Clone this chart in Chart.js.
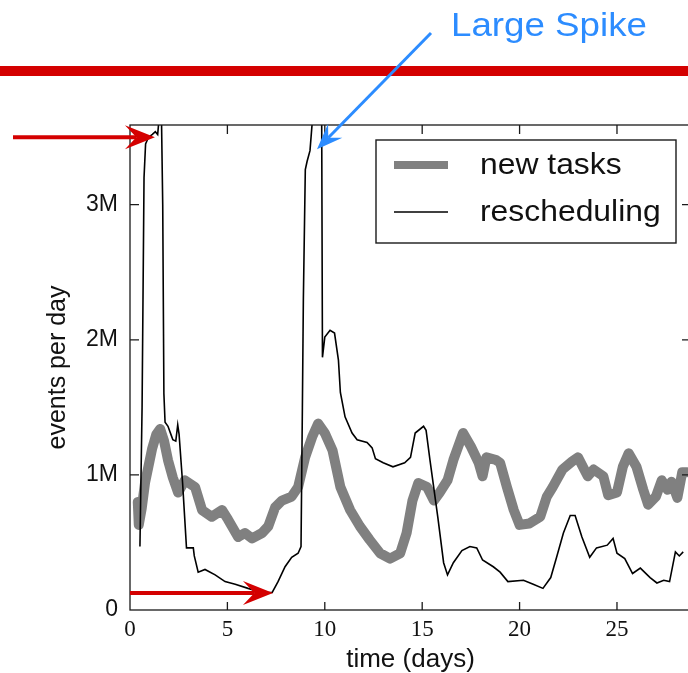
<!DOCTYPE html>
<html>
<head>
<meta charset="utf-8">
<script src="https://cdn.jsdelivr.net/npm/chart.js@4.4.1/dist/chart.umd.min.js"></script>
<style>
  html, body { margin: 0; padding: 0; background: #fff; overflow: hidden; }
  #wrap { position: relative; width: 700px; height: 673px; }
</style>
</head>
<body>
<div id="wrap"><canvas id="chart" width="700" height="673"></canvas></div>
<script>
// axis ticks
const xTicks = [0, 5, 10, 15, 20, 25];
const yTicks = [0, 1, 2, 3];
const yTickLabels = ['0', '1M', '2M', '3M'];

const seriesLabels = ['new tasks', 'rescheduling'];
const spikeNote = 'Large Spike';

// new tasks: day / events per day (millions)
const newTaskDays = [0.4, 0.45, 0.6, 0.77, 1.13, 1.35, 1.55, 1.75, 1.95, 2.2, 2.47, 2.82, 3.34, 3.7, 4.2,
  4.73, 5.03, 5.55, 5.9, 6.27, 6.78, 7.1, 7.45, 7.8, 8.3, 8.63, 8.99, 9.35, 9.66, 10.0,
  10.4, 10.8, 11.3, 11.8, 12.3, 12.84, 13.35, 13.87, 14.2, 14.5, 14.8, 15.25, 15.6, 15.9, 16.3,
  16.6, 17.1, 17.5, 17.9, 18.1, 18.3, 18.8, 19.0, 19.35, 19.7, 20.0, 20.5, 21.06, 21.4, 21.7,
  22.2, 22.7, 23.0, 23.5, 23.8, 24.3, 24.55, 25.0, 25.3, 25.6, 26.0, 26.35, 26.6, 27.0, 27.3,
  27.6, 27.8, 28.1, 28.35, 28.6];
const newTaskEvents = [0.8, 0.63, 0.75, 0.94, 1.19, 1.3, 1.34, 1.25, 1.11, 0.98, 0.87, 0.96, 0.91, 0.74, 0.69,
  0.74, 0.67, 0.54, 0.57, 0.53, 0.57, 0.62, 0.76, 0.81, 0.84, 0.91, 1.13, 1.28, 1.38, 1.31,
  1.18, 0.91, 0.74, 0.62, 0.52, 0.42, 0.38, 0.42, 0.57, 0.81, 0.94, 0.91, 0.81, 0.87, 0.96,
  1.11, 1.31, 1.21, 1.09, 0.99, 1.13, 1.11, 1.09, 0.91, 0.74, 0.63, 0.64, 0.69, 0.84, 0.91,
  1.04, 1.10, 1.13, 0.99, 1.04, 0.99, 0.85, 0.87, 1.06, 1.16, 1.06, 0.89, 0.78, 0.84, 0.96,
  0.89, 0.95, 0.83, 1.02, 1.02];

// rescheduling: day / events per day (millions)
const reschedDays = [0.51, 0.62, 0.72, 0.8, 0.95, 1.15, 1.3, 1.42, 1.5, 1.6, 1.68, 1.74, 1.8, 1.95, 2.1,
  2.2, 2.35, 2.45, 2.52, 2.7, 2.9, 3.25, 3.3, 3.5, 3.85, 4.37, 4.88, 5.4, 6.06, 6.78,
  7.3, 7.6, 7.96, 8.3, 8.63, 8.78, 8.85, 8.9, 9.0, 9.09, 9.24, 9.35, 9.6, 9.84, 9.88,
  10.0, 10.27, 10.5, 10.7, 10.8, 11.04, 11.4, 11.66, 12.17, 12.43, 12.6, 13.0, 13.5, 14.1, 14.4,
  14.64, 15.07, 15.2, 15.4, 15.8, 16.1, 16.3, 16.6, 17.04, 17.45, 17.8, 18.1, 18.65, 19.0, 19.4,
  20.2, 20.7, 21.2, 21.6, 21.9, 22.25, 22.6, 22.85, 23.2, 23.6, 23.95, 24.5, 24.8, 25.0, 25.4,
  25.8, 26.2, 26.7, 27.05, 27.4, 27.7, 28.0, 28.2, 28.4];
const reschedEvents = [0.47, 1.5, 3.2, 3.45, 3.5, 3.52, 3.54, 3.52, 3.65, 3.8, 3.0, 1.6, 1.39, 1.36, 1.3,
  1.26, 1.25, 1.37, 1.3, 0.94, 0.46, 0.46, 0.4, 0.28, 0.30, 0.26, 0.21, 0.19, 0.16, 0.13,
  0.13, 0.21, 0.32, 0.39, 0.42, 0.47, 1.5, 2.3, 3.26, 3.32, 3.4, 3.6, 3.9, 3.65, 1.87,
  2.02, 2.07, 2.05, 1.85, 1.61, 1.43, 1.31, 1.26, 1.24, 1.2, 1.12, 1.09, 1.06, 1.09, 1.13,
  1.31, 1.36, 1.33, 1.11, 0.69, 0.35, 0.26, 0.35, 0.44, 0.47, 0.46, 0.37, 0.32, 0.28, 0.21,
  0.22, 0.19, 0.16, 0.24, 0.39, 0.57, 0.70, 0.70, 0.54, 0.39, 0.46, 0.48, 0.53, 0.42, 0.38,
  0.27, 0.31, 0.24, 0.20, 0.22, 0.21, 0.43, 0.40, 0.43];

// annotation anchors in data units (day, millions)
const maxMarker = [1.28, 3.5];
const minMarker = [7.34, 0.126];
const spikeMarker = [9.6, 3.41];

const RED = '#d40000';
const BLUE = '#2c8cff';
const SANS = '"Liberation Sans", Arial, sans-serif';

function toPoints(xs, ys) {
    return xs.map((x, i) => ({ x: x, y: ys[i] }));
}

// the figure is slightly stretched sideways, so widen the hand drawn text a bit
function wideText(ctx, text, x, y, size, color) {
    ctx.save();
    ctx.translate(x, y);
    ctx.scale(1.08, 1);
    ctx.fillStyle = color;
    ctx.font = size + 'px ' + SANS;
    ctx.textBaseline = 'middle';
    ctx.textAlign = 'left';
    ctx.fillText(text, 0, 0);
    ctx.restore();
}

// stealth style arrow, head at (x2, y2)
function arrow(ctx, x1, y1, x2, y2, color, width, len, half) {
    const a = Math.atan2(y2 - y1, x2 - x1);
    const c = Math.cos(a), s = Math.sin(a);
    const nx = x2 - len * 0.62 * c, ny = y2 - len * 0.62 * s;
    ctx.save();
    ctx.strokeStyle = color;
    ctx.fillStyle = color;
    ctx.lineWidth = width;
    ctx.beginPath();
    ctx.moveTo(x1, y1);
    ctx.lineTo(nx, ny);
    ctx.stroke();
    ctx.beginPath();
    ctx.moveTo(x2, y2);
    ctx.lineTo(x2 - len * c - half * s, y2 - len * s + half * c);
    ctx.lineTo(nx, ny);
    ctx.lineTo(x2 - len * c + half * s, y2 - len * s - half * c);
    ctx.closePath();
    ctx.fill();
    ctx.restore();
}

const decorPlugin = {
    id: 'decor',
    afterDatasetsDraw(chart) {
        const ctx = chart.ctx;
        const { left, right, top, bottom } = chart.chartArea;
        const xs = chart.scales.x, ys = chart.scales.y;

        // frame with inward ticks
        ctx.save();
        ctx.strokeStyle = '#1a1a1a';
        ctx.lineWidth = 1.3;
        ctx.strokeRect(left, top, right - left, bottom - top);
        ctx.beginPath();
        xTicks.forEach(v => {
            if (v === 0) return;
            const px = xs.getPixelForValue(v);
            ctx.moveTo(px, bottom); ctx.lineTo(px, bottom - 8);
            ctx.moveTo(px, top); ctx.lineTo(px, top + 9);
        });
        yTicks.forEach(v => {
            if (v === 0) return;
            const py = ys.getPixelForValue(v);
            ctx.moveTo(left, py); ctx.lineTo(left + 9, py);
            ctx.moveTo(right, py); ctx.lineTo(right - 9, py);
        });
        ctx.stroke();

        // boxed legend
        const bx = 376, by = 140, bw = 300, bh = 103;
        ctx.fillStyle = '#fff';
        ctx.fillRect(bx, by, bw, bh);
        ctx.lineWidth = 1.4;
        ctx.strokeRect(bx, by, bw, bh);
        chart.data.datasets.forEach((ds, i) => {
            const ly = by + 25 + i * 47;
            ctx.strokeStyle = ds.borderColor;
            ctx.lineWidth = i === 0 ? 8 : 1.6;
            ctx.beginPath();
            ctx.moveTo(bx + 18, ly); ctx.lineTo(bx + 72, ly);
            ctx.stroke();
            wideText(ctx, ds.label, bx + 104, ly + 1, 29.5, '#111');
        });
        ctx.restore();

        // annotations
        ctx.save();
        ctx.fillStyle = RED;
        ctx.fillRect(0, 66, chart.width, 10);
        arrow(ctx, 13, ys.getPixelForValue(maxMarker[1]),
            xs.getPixelForValue(maxMarker[0]), ys.getPixelForValue(maxMarker[1]), RED, 4, 30, 12);
        arrow(ctx, xs.getPixelForValue(0), ys.getPixelForValue(minMarker[1]),
            xs.getPixelForValue(minMarker[0]), ys.getPixelForValue(minMarker[1]), RED, 4, 30, 12);
        arrow(ctx, 431, 33, xs.getPixelForValue(spikeMarker[0]), ys.getPixelForValue(spikeMarker[1]),
            BLUE, 3, 26, 10);
        wideText(ctx, spikeNote, 451, 27, 34, BLUE);
        ctx.restore();
    }
};

const ctx = document.getElementById('chart').getContext('2d');
new Chart(ctx, {
    type: 'line',
    data: {
        datasets: [{
            label: seriesLabels[0],
            data: toPoints(newTaskDays, newTaskEvents),
            borderColor: '#808080',
            borderWidth: 10,
            borderJoinStyle: 'round',
            borderCapStyle: 'round',
            pointRadius: 0,
            order: 1
        }, {
            label: seriesLabels[1],
            data: toPoints(reschedDays, reschedEvents),
            borderColor: '#000',
            borderWidth: 1.6,
            pointRadius: 0,
            order: 0
        }]
    },
    options: {
        responsive: false,
        animation: false,
        layout: { padding: { left: 0, top: 125, right: 9, bottom: 0 } },
        plugins: {
            legend: { display: false },
            tooltip: { enabled: false }
        },
        scales: {
            x: {
                type: 'linear',
                min: 0,
                max: 28.8,
                grid: { display: false, drawTicks: false },
                border: { display: false },
                afterBuildTicks: s => { s.ticks = xTicks.map(v => ({ value: v })); },
                afterFit: s => { s.height = 63; },
                ticks: {
                    padding: 6,
                    color: '#111',
                    font: { family: '"Liberation Serif", serif', size: 23 },
                    callback: v => String(v)
                },
                title: {
                    display: true,
                    text: 'time (days)',
                    color: '#111',
                    font: { family: SANS, size: 26, lineHeight: 1.0 },
                    padding: { top: 0, bottom: 0 }
                }
            },
            y: {
                type: 'linear',
                min: 0,
                max: 3.59,
                grid: { display: false, drawTicks: false },
                border: { display: false },
                afterBuildTicks: s => { s.ticks = yTicks.map(v => ({ value: v })); },
                afterFit: s => { s.width = 130; },
                ticks: {
                    padding: 12,
                    color: '#111',
                    font: { family: SANS, size: 23 },
                    callback: v => yTickLabels[yTicks.indexOf(v)]
                },
                title: {
                    display: true,
                    text: 'events per day',
                    color: '#111',
                    font: { family: SANS, size: 25, lineHeight: 1.2 },
                    padding: { top: 43, bottom: 0 }
                }
            }
        }
    },
    plugins: [decorPlugin]
});
</script>
</body>
</html>
